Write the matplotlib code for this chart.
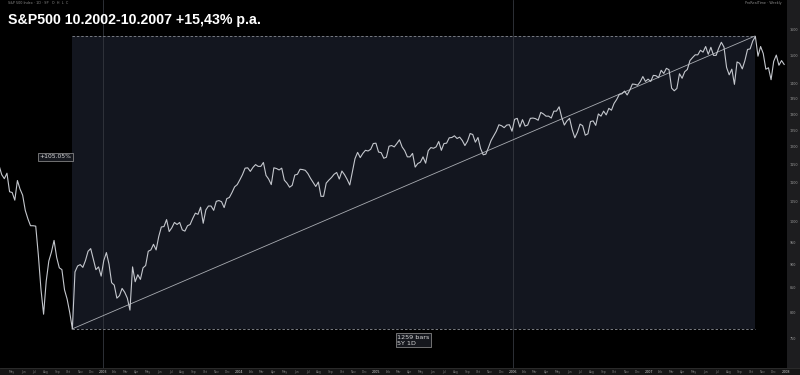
import matplotlib
matplotlib.use("Agg")
import matplotlib.pyplot as plt
import matplotlib.dates as mdates
from matplotlib.patches import Rectangle
import numpy as np
import pandas as pd

# ---------------- data (weekly S&P 500 levels) ----------------
start_2002 = "2002-03-29"
vals_2002 = [1147, 1122, 1111, 1126, 1076, 1074, 1054, 1106, 1083, 1067,
             1028, 1007, 990, 990, 989, 921, 847, 797, 864, 908,
             928, 955, 916, 893, 889, 846, 827, 800, 769, 884,
             897, 900, 894, 909, 930, 936, 912, 889, 895, 875]
start_2003 = "2003-01-03"
vals_2003 = [909, 927, 901, 861, 856, 829, 834, 849, 841, 829,
             805, 895, 863, 878, 868, 893, 898, 930, 933, 946,
             933, 964, 987, 988, 1005, 976, 985, 998, 993, 998,
             980, 977, 990, 993, 1008, 1021, 1018, 1036, 996, 1029,
             1039, 1039, 1028, 1051, 1053, 1050, 1035, 1058, 1061, 1074,
             1089, 1095]
start_2004 = "2004-01-02"
vals_2004 = [1108, 1122, 1140, 1141, 1131, 1142, 1150, 1145, 1145, 1156,
             1120, 1110, 1095, 1141, 1139, 1135, 1140, 1107, 1099, 1088,
             1093, 1121, 1123, 1137, 1136, 1134, 1125, 1112, 1101, 1090,
             1102, 1064, 1064, 1099, 1107, 1114, 1123, 1128, 1110, 1132,
             1122, 1109, 1094, 1130, 1167, 1185, 1170, 1182, 1191, 1189,
             1194, 1211, 1212]
start_2005 = "2005-01-07"
vals_2005 = [1186, 1184, 1168, 1171, 1203, 1205, 1201, 1211, 1222, 1201,
             1190, 1172, 1172, 1182, 1143, 1153, 1157, 1172, 1154, 1190,
             1199, 1197, 1201, 1217, 1191, 1211, 1212, 1228, 1229, 1234,
             1226, 1230, 1220, 1205, 1218, 1241, 1238, 1215, 1229, 1196,
             1178, 1180, 1199, 1220, 1234, 1248, 1268, 1265, 1259, 1267,
             1268, 1248]
start_2006 = "2006-01-06"
vals_2006 = [1285, 1288, 1261, 1284, 1264, 1267, 1288, 1289, 1287, 1282,
             1307, 1302, 1295, 1295, 1289, 1311, 1311, 1325, 1291, 1267,
             1280, 1288, 1253, 1228, 1245, 1270, 1265, 1236, 1240, 1278,
             1280, 1266, 1302, 1295, 1311, 1299, 1320, 1314, 1336, 1349,
             1366, 1368, 1377, 1364, 1380, 1401, 1400, 1397, 1409, 1427,
             1410, 1418]
start_2007 = "2007-01-05"
vals_2007 = [1410, 1431, 1430, 1423, 1449, 1438, 1456, 1451, 1387, 1378,
             1386, 1437, 1421, 1444, 1452, 1484, 1495, 1505, 1505, 1522,
             1515, 1536, 1507, 1533, 1503, 1503, 1530, 1552, 1534, 1459,
             1433, 1453, 1400, 1479, 1474, 1454, 1484, 1525, 1527, 1557,
             1574, 1500, 1536, 1510, 1453, 1458, 1416, 1481, 1504, 1467,
             1484, 1470]

box_start, box_end = "2002-10-10", "2007-10-11"
box_low, box_high = 768.63, 1576.09
pct_label = "+105.05%"
bars_label = "1259 bars\n5Y 1D"
title = "S&P500 10.2002-10.2007 +15,43% p.a."
price_ticks = [750, 800, 850, 900, 950, 1000, 1050, 1100, 1150, 1200, 1250,
               1300, 1350, 1400, 1500, 1600]
month_names = ["", "Feb", "Mar", "Apr", "May", "Jun", "Jul", "Aug", "Sep",
               "Oct", "Nov", "Dec"]

# ---------------- build series ----------------
dates, prices = [], []
for s, v in [(start_2002, vals_2002), (start_2003, vals_2003), (start_2004, vals_2004),
             (start_2005, vals_2005), (start_2006, vals_2006), (start_2007, vals_2007)]:
    d = pd.date_range(s, periods=len(v), freq="W-FRI")
    dates.extend(d)
    prices.extend(v)
x = mdates.date2num(pd.DatetimeIndex(dates).to_pydatetime())
prices = np.array(prices, dtype=float)

d0 = mdates.datestr2num(box_start)
d1 = mdates.datestr2num(box_end)

W, H = 800, 375
fig = plt.figure(figsize=(8, 3.75), dpi=100, facecolor="black")

right_px, bottom_px = 787, 368
ax = fig.add_axes([0, (H - bottom_px) / H, right_px / W, bottom_px / H])
ax.set_facecolor("black")
ax.set_yscale("log")

# pixel geometry of the box -> axis limits
px_per_day = (755 - 72) / (d1 - d0)
ax.set_xlim(d0 - 72 / px_per_day, d1 + (right_px - 755) / px_per_day)
lnpp = (np.log(box_high) - np.log(box_low)) / (329 - 36)
ax.set_ylim(np.exp(np.log(box_low) - (bottom_px - 329) * lnpp),
            np.exp(np.log(box_high) + 36 * lnpp))
for sp in ax.spines.values():
    sp.set_visible(False)
ax.set_xticks([])
ax.set_yticks([])
ax.yaxis.set_minor_locator(matplotlib.ticker.NullLocator())

# price range box
ax.add_patch(Rectangle((d0, box_low), d1 - d0, box_high - box_low,
                       facecolor="#13161f", edgecolor="none", zorder=0.5))
ax.hlines([box_low, box_high], d0, d1, colors="#7a7d84", linestyles=(0, (2.5, 2)),
          lw=0.7, zorder=1)

# faint vertical markers
for ds in ["2003-01-01", "2006-01-01"]:
    ax.axvline(mdates.datestr2num(ds), color="#34373f", lw=0.6, zorder=0.8)

# trend line
ax.plot([d0, d1], [box_low, box_high], color="#a9acb2", lw=0.6, zorder=2)

# price line
ax.plot(x, prices, color="#c4c7cd", lw=0.8, zorder=3)

# labels
ax.text(d0 - 1, np.exp(np.log(box_low) + (329 - 157) * lnpp), pct_label,
        ha="right", va="center", fontsize=4.3, color="#d8d8d8", zorder=5,
        bbox=dict(boxstyle="square,pad=0.25", fc="#15171d", ec="#9a9a9a", lw=0.5))
ax.text((d0 + d1) / 2, np.exp(np.log(box_low) - 6 * lnpp), bars_label,
        ha="center", va="top", fontsize=4.6, color="#d8d8d8", zorder=5,
        multialignment="left", linespacing=1.2,
        bbox=dict(boxstyle="square,pad=0.25", fc="#15171d", ec="#9a9a9a", lw=0.5))

# title
fig.text(8 / W, 1 - 20 / H, title, fontsize=10.2, fontweight="bold", color="white",
         family=["Liberation Sans", "DejaVu Sans"], va="center", ha="left")
fig.text(8 / W, 1 - 3 / H, "S&P 500 Index · 1D · SP   O  H  L  C", fontsize=2.4,
         color="#8a8a8a", va="center", ha="left")
fig.text(745 / W, 1 - 3 / H, "ProRealTime · Weekly", fontsize=2.4,
         color="#8a8a8a", va="center", ha="left")

# right price strip
axr = fig.add_axes([right_px / W, (H - bottom_px) / H, (W - right_px) / W, bottom_px / H])
axr.set_facecolor("#1d1d1f")
axr.set_yscale("log")
axr.set_ylim(ax.get_ylim())
axr.set_xlim(0, 1)
axr.set_xticks([])
axr.set_yticks([])
axr.yaxis.set_minor_locator(matplotlib.ticker.NullLocator())
for sp in axr.spines.values():
    sp.set_visible(False)
for v in price_ticks:
    axr.text(0.2, v, f"{v:d}", fontsize=2.4, color="#9a9a9a", va="center", ha="left")

# bottom time strip
axb = fig.add_axes([0, 0, 1, (H - bottom_px) / H])
axb.set_facecolor("#161616")
axb.set_xlim(ax.get_xlim()[0], ax.get_xlim()[0] + (ax.get_xlim()[1] - ax.get_xlim()[0]) * W / right_px)
axb.set_ylim(0, 1)
axb.set_xticks([])
axb.set_yticks([])
for sp in axb.spines.values():
    sp.set_visible(False)
axb.axhline(1, color="#2e2e2e", lw=0.6)
for m in pd.date_range("2002-05-01", "2008-01-01", freq="MS"):
    xm = mdates.date2num(m.to_pydatetime())
    if m.month == 1:
        axb.text(xm, 0.45, str(m.year), fontsize=2.4, color="#d0d0d0", ha="center", va="center")
    else:
        axb.text(xm, 0.45, month_names[m.month - 1], fontsize=2.2, color="#7a7a7a",
                 ha="center", va="center")

fig.savefig("out.png", dpi=100, facecolor="black")
